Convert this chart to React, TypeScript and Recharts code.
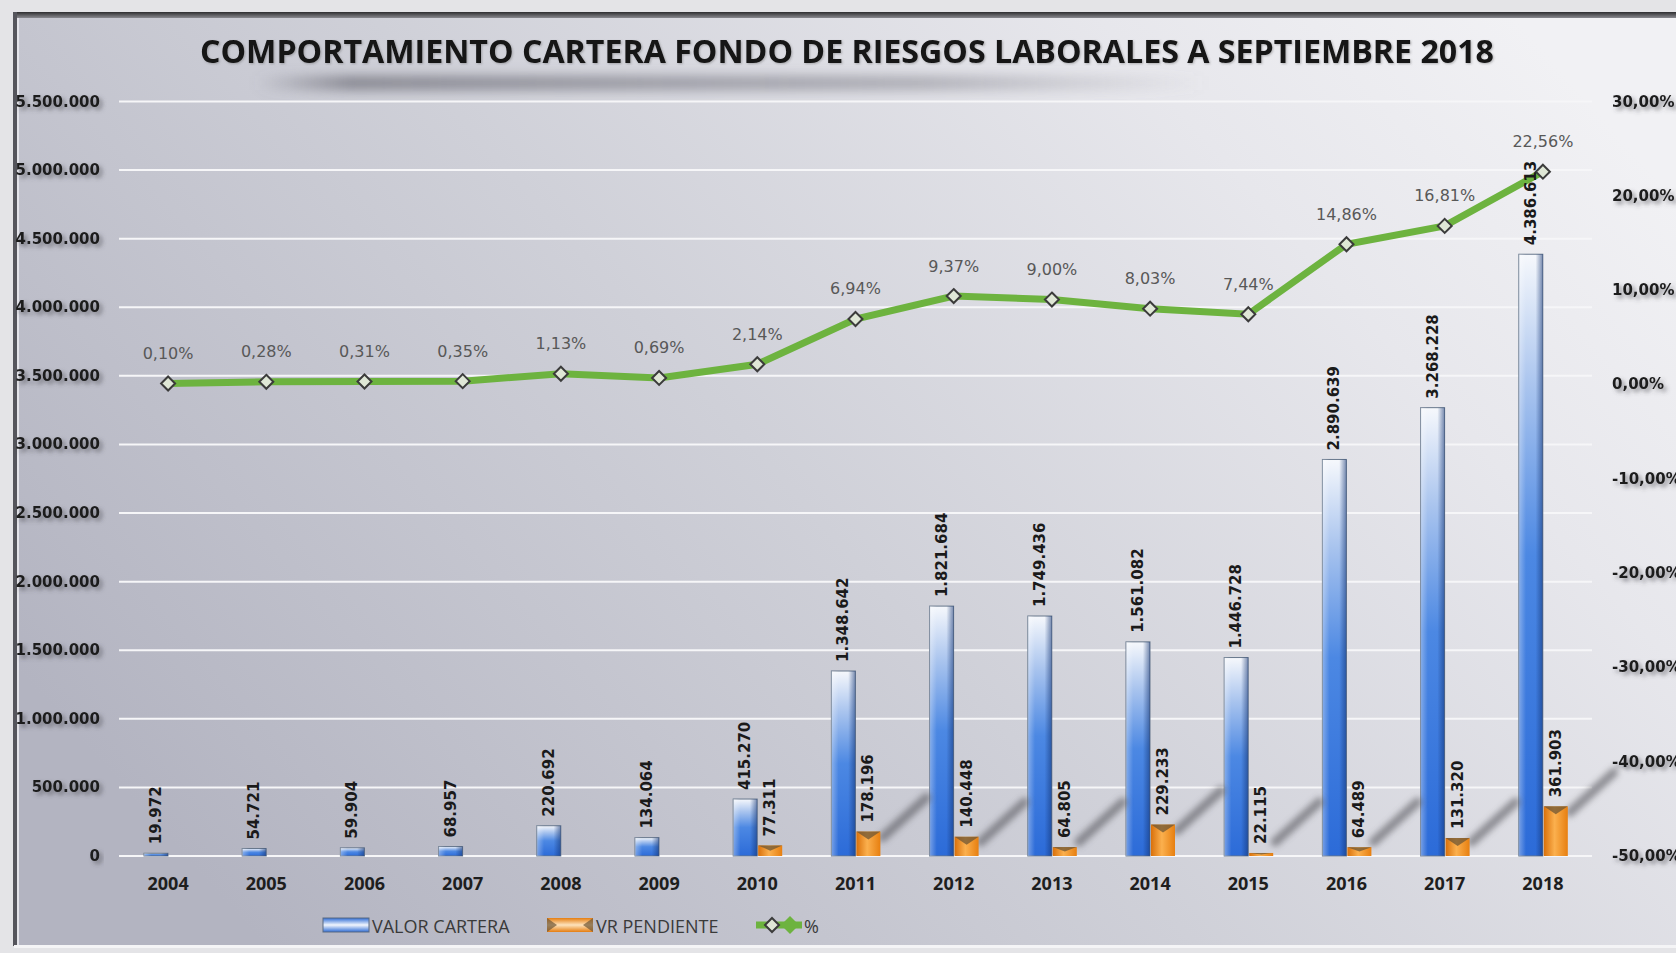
import { ComposedChart, Bar, Line, XAxis, YAxis, CartesianGrid, LabelList } from "recharts";

const YEARS = ["2004", "2005", "2006", "2007", "2008", "2009", "2010", "2011", "2012", "2013", "2014", "2015", "2016", "2017", "2018"];
const VALOR_CARTERA = [19972, 54721, 59904, 68957, 220692, 134064, 415270, 1348642, 1821684, 1749436, 1561082, 1446728, 2890639, 3268228, 4386613];
const VR_PENDIENTE = [null, null, null, null, null, null, 77311, 178196, 140448, 64805, 229233, 22115, 64489, 131320, 361903];
const PORCENTAJE = [0.1, 0.28, 0.31, 0.35, 1.13, 0.69, 2.14, 6.94, 9.37, 9.0, 8.03, 7.44, 14.86, 16.81, 22.56];
const LEFT_TICKS = [0, 500000, 1000000, 1500000, 2000000, 2500000, 3000000, 3500000, 4000000, 4500000, 5000000, 5500000];
const RIGHT_TICKS = [-50, -40, -30, -20, -10, 0, 10, 20, 30];

const TITLE = "COMPORTAMIENTO CARTERA FONDO DE RIESGOS LABORALES A SEPTIEMBRE 2018";

const data = YEARS.map((year, i) => ({
  year,
  cartera: VALOR_CARTERA[i],
  pendiente: VR_PENDIENTE[i],
  pct: PORCENTAJE[i],
}));

const W = 1676;
const H = 953;

const miles = (n: number) => String(n).replace(/\B(?=(\d{3})+(?!\d))/g, ".");
const pctFmt = (v: number) => v.toFixed(2).replace(".", ",") + "%";

const LeftTick = (p: any) => (
  <text x={p.x} y={p.y} textAnchor="end" dominantBaseline="central" fontFamily="DejaVu Sans" fontWeight={700} fontSize={15} fill="#1c1c1c" filter="url(#tickShadow)">
    {miles(p.payload.value)}
  </text>
);

const RightTick = (p: any) => (
  <text x={p.x} y={p.y} textAnchor="start" dominantBaseline="central" fontFamily="DejaVu Sans" fontWeight={700} fontSize={15} fill="#1c1c1c" filter="url(#tickShadow)">
    {p.payload.value.toFixed(2).replace(".", ",") + "%"}
  </text>
);

const YearTick = (p: any) => (
  <text x={p.x} y={p.y} textAnchor="middle" dominantBaseline="central" fontFamily="Open Sans" fontWeight={700} fontSize={18} fill="#1e1e1e">
    {p.payload.value}
  </text>
);

function CarteraBar(props: any) {
  const { x, y, width, height } = props;
  if (!height || height <= 0) return null;
  return (
    <g>
      <rect x={x} y={y} width={width} height={height} fill="url(#gradBlueV)" stroke="#67778c" strokeWidth={1} />
      <rect x={x} y={y} width={width} height={height} fill="url(#gradBlueH)" />
    </g>
  );
}

function PendienteBar(props: any) {
  const { x, y, width, height, payload } = props;
  if (payload == null || payload.pendiente == null || !height || height <= 0) return null;
  const base = y + height;
  const sy = Math.min(y + 6, base - 14);
  const cap = Math.min(8, height / 2);
  return (
    <g>
      {payload.cartera > 1000000 && (
        <path d={`M${x + width + 2} ${sy} L${x + width + 46} ${sy - 40}`} stroke="#4a4a50" strokeWidth={9} strokeLinecap="round" opacity={0.55} filter="url(#blur3)" />
      )}
      <rect x={x} y={y} width={width} height={height} fill="url(#gradOrange)" />
      <polygon points={`${x},${y} ${x + width},${y} ${x + width / 2},${y + cap}`} fill="#6e5634" opacity={0.75} />
    </g>
  );
}

function Diamond(props: any) {
  const { cx, cy } = props;
  if (cx == null || cy == null) return null;
  const r = 7;
  return (
    <polygon points={`${cx},${cy - r} ${cx + r},${cy} ${cx},${cy + r} ${cx - r},${cy}`} fill="#dfe7d6" stroke="#3b3b3b" strokeWidth={2} />
  );
}

function VerticalLabel(props: any) {
  const { value } = props;
  if (value == null) return null;
  const vb = props.viewBox || {};
  const x = props.x ?? vb.x;
  const y = props.y ?? vb.y;
  const width = props.width ?? vb.width;
  const cx = x + width / 2;
  const ty = y - 9;
  return (
    <text x={cx} y={ty} transform={`rotate(-90 ${cx} ${ty})`} textAnchor="start" dominantBaseline="central" fontFamily="DejaVu Sans" fontWeight={700} fontSize={15} fill="#1a1a1a">
      {miles(value)}
    </text>
  );
}

function PctLabel(props: any) {
  const { value } = props;
  if (value == null) return null;
  const vb = props.viewBox || {};
  const x = props.x ?? vb.x;
  const y = props.y ?? vb.y;
  return (
    <text x={x} y={y - 30} textAnchor="middle" dominantBaseline="central" fontFamily="DejaVu Sans" fontSize={16} fill="#585858">
      {pctFmt(value)}
    </text>
  );
}

export default function App() {
  return (
    <div style={{ position: "absolute", left: 0, top: 0, width: W, height: H, overflow: "hidden", background: "#e6e6e9" }}>
      <svg width={W} height={H} style={{ position: "absolute", left: 0, top: 0 }}>
        <defs>
          <linearGradient id="panelGrad" x1="0" y1="0.7" x2="1" y2="0.2">
            <stop offset="0%" stopColor="#b3b4c1" />
            <stop offset="45%" stopColor="#cfd0d8" />
            <stop offset="80%" stopColor="#e7e7ec" />
            <stop offset="100%" stopColor="#f1f1f4" />
          </linearGradient>
          <linearGradient id="topBar" x1="0" y1="0" x2="0" y2="1">
            <stop offset="0%" stopColor="#2e2e30" />
            <stop offset="100%" stopColor="#8a8a90" />
          </linearGradient>
          <linearGradient id="smearGrad" x1="0" y1="0" x2="1" y2="0">
            <stop offset="0%" stopColor="#6e6e78" stopOpacity={0} />
            <stop offset="10%" stopColor="#6e6e78" stopOpacity={0.75} />
            <stop offset="70%" stopColor="#7a7a84" stopOpacity={0.5} />
            <stop offset="100%" stopColor="#8a8a94" stopOpacity={0} />
          </linearGradient>
          <linearGradient id="gradBlueV" x1="0" y1="0" x2="0" y2="1">
            <stop offset="0%" stopColor="#f6f8fc" />
            <stop offset="22%" stopColor="#a9c4ee" />
            <stop offset="50%" stopColor="#4c88e3" />
            <stop offset="100%" stopColor="#2c6bd8" />
          </linearGradient>
          <linearGradient id="gradBlueH" x1="0" y1="0" x2="1" y2="0">
            <stop offset="0%" stopColor="#ffffff" stopOpacity={0.35} />
            <stop offset="30%" stopColor="#ffffff" stopOpacity={0} />
            <stop offset="70%" stopColor="#10306e" stopOpacity={0} />
            <stop offset="100%" stopColor="#10306e" stopOpacity={0.55} />
          </linearGradient>
          <linearGradient id="gradOrange" x1="0" y1="0" x2="1" y2="0">
            <stop offset="0%" stopColor="#d9700a" />
            <stop offset="45%" stopColor="#fbb04e" />
            <stop offset="100%" stopColor="#e77f10" />
          </linearGradient>
          <linearGradient id="legBlue" x1="0" y1="0" x2="0" y2="1">
            <stop offset="0%" stopColor="#2f6dd6" />
            <stop offset="50%" stopColor="#f2f6fd" />
            <stop offset="100%" stopColor="#2f6dd6" />
          </linearGradient>
          <linearGradient id="legOrange" x1="0" y1="0" x2="0" y2="1">
            <stop offset="0%" stopColor="#e57d10" />
            <stop offset="50%" stopColor="#fde3bd" />
            <stop offset="100%" stopColor="#e57d10" />
          </linearGradient>
          <filter id="tickShadow" x="-20%" y="-50%" width="150%" height="250%">
            <feDropShadow dx={3} dy={3} stdDeviation={2} floodColor="#4a4a50" floodOpacity={0.6} />
          </filter>
          <filter id="titleShadow" x="-5%" y="-50%" width="110%" height="200%">
            <feDropShadow dx={1} dy={1} stdDeviation={1} floodColor="#555" floodOpacity={0.4} />
          </filter>
          <filter id="blur3" x="-50%" y="-50%" width="200%" height="200%">
            <feGaussianBlur stdDeviation={3} />
          </filter>
          <filter id="blur6" x="-20%" y="-200%" width="140%" height="500%">
            <feGaussianBlur stdDeviation={6} />
          </filter>
        </defs>
        <rect x={0} y={0} width={W} height={H} fill="#e4e4e7" />
        <rect x={14} y={12} width={W - 14} height={934} fill="url(#panelGrad)" />
        <rect x={14} y={12} width={W - 14} height={6} fill="url(#topBar)" />
        <rect x={13} y={12} width={4} height={934} fill="#55555c" />
        <rect x={17} y={18} width={2} height={928} fill="#e4e4ea" />
        <rect x={14} y={945} width={W - 14} height={3} fill="#f4f4f6" />
        <rect x={256} y={76} width={950} height={14} fill="url(#smearGrad)" filter="url(#blur6)" />
        <text x={847} y={50} textAnchor="middle" dominantBaseline="central" fontFamily="Open Sans" fontWeight={700} fontSize={32} fill="#121212" textLength={1294} lengthAdjust="spacingAndGlyphs" filter="url(#titleShadow)">
          {TITLE}
        </text>
      </svg>

      <div style={{ position: "absolute", left: 0, top: 0 }}>
        <ComposedChart width={W} height={H} data={data} margin={{ top: 101.5, right: 0, bottom: 67, left: 0 }} barGap={1} barSize={24}>
          <CartesianGrid yAxisId="left" vertical={false} stroke="#f6f6f8" strokeWidth={2} />
          <XAxis dataKey="year" interval={0} tickLine={false} axisLine={false} tickSize={0} tickMargin={27} tick={YearTick} />
          <YAxis yAxisId="left" orientation="left" width={119} domain={[0, 5500000]} ticks={LEFT_TICKS} interval={0} tickLine={false} axisLine={false} tickSize={0} tickMargin={19} tick={LeftTick} />
          <YAxis yAxisId="right" orientation="right" width={84} domain={[-50, 30]} ticks={RIGHT_TICKS} interval={0} tickLine={false} axisLine={false} tickSize={0} tickMargin={20} tick={RightTick} />
          <Bar yAxisId="left" dataKey="cartera" name="VALOR CARTERA" shape={<CarteraBar />} isAnimationActive={false}>
            <LabelList dataKey="cartera" content={VerticalLabel} />
          </Bar>
          <Bar yAxisId="left" dataKey="pendiente" name="VR PENDIENTE" shape={<PendienteBar />} isAnimationActive={false}>
            <LabelList dataKey="pendiente" content={VerticalLabel} />
          </Bar>
          <Line yAxisId="right" type="linear" dataKey="pct" name="%" stroke="#6db33f" strokeWidth={7} dot={<Diamond />} activeDot={false} isAnimationActive={false}>
            <LabelList dataKey="pct" content={PctLabel} />
          </Line>
        </ComposedChart>
      </div>

      <svg width={W} height={H} style={{ position: "absolute", left: 0, top: 0, pointerEvents: "none" }}>
        <rect x={323} y={918} width={46} height={14} fill="url(#legBlue)" stroke="#5a6a82" strokeWidth={1} />
        <text x={372} y={926} dominantBaseline="central" fontFamily="Open Sans" fontSize={18} fill="#3a3a3a">VALOR CARTERA</text>
        <rect x={547} y={918} width={46} height={14} fill="url(#legOrange)" />
        <polygon points="547,918 557,925 547,932" fill="#6e5634" opacity={0.7} />
        <polygon points="593,918 583,925 593,932" fill="#6e5634" opacity={0.7} />
        <text x={596} y={926} dominantBaseline="central" fontFamily="Open Sans" fontSize={18} fill="#3a3a3a">VR PENDIENTE</text>
        <line x1={756} y1={925} x2={802} y2={925} stroke="#6db33f" strokeWidth={7} />
        <polygon points="772,918 779,925 772,932 765,925" fill="#dfe7d6" stroke="#3b3b3b" strokeWidth={2} />
        <polygon points="790,916 799,925 790,934 781,925" fill="#6db33f" />
        <text x={804} y={926} dominantBaseline="central" fontFamily="Open Sans" fontSize={18} fill="#3a3a3a">%</text>
      </svg>
    </div>
  );
}
